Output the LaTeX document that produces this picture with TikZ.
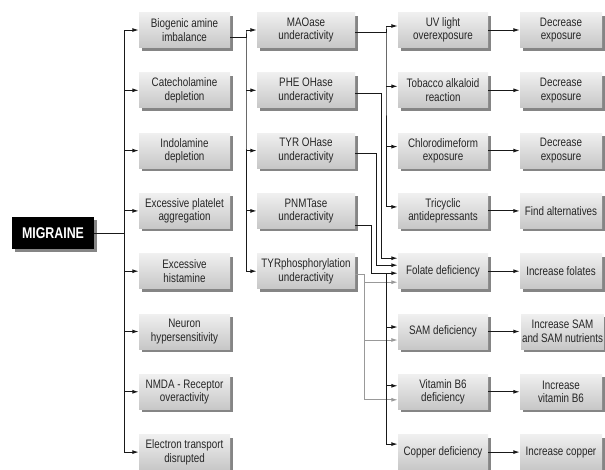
\documentclass[tikz,border=0pt]{standalone}
\usepackage{fontspec}
\setmainfont{Liberation Sans}[FakeStretch=0.8]
\usetikzlibrary{arrows.meta,shadows,calc}
\begin{document}
\begin{tikzpicture}[x=1pt,y=-1pt,
  cell/.style={minimum height=35pt, inner sep=1pt, align=center,
    font=\fontsize{12.3}{13.5}\selectfont, text=black!85,
    top color=black!6, bottom color=black!22, draw=none,
    copy shadow={shadow xshift=3pt, shadow yshift=-3pt, fill=black!48, draw=none}},
  cone/.style={cell, minimum width=91pt},
  ctwo/.style={cell, minimum width=98pt},
  cthree/.style={cell, minimum width=90pt},
  cfour/.style={cell, minimum width=82pt},
  rootbox/.style={fill=black, text=white, minimum width=82pt, minimum height=32pt,
    inner sep=1pt, font=\fontsize{15.5}{16}\selectfont\bfseries,
    copy shadow={shadow xshift=3pt, shadow yshift=-3pt, fill=black!48, draw=none}},
  link/.style={draw=black!90, line width=1pt},
  arr/.style={link, -{Latex[length=6.5pt,width=4pt]}},
  glink/.style={draw=black!40, line width=1pt},
  garr/.style={glink, -{Latex[length=6.5pt,width=4pt]}}
]
\useasboundingbox (0,0) rectangle (605,469);

% root
\node[rootbox] (mig) at (53,233) {MIGRAINE};

% first column: causes
\node[cone] (n1) at (184.5,30.0)  {Biogenic amine\\imbalance};
\node[cone] (n2) at (184.5,90.3)  {Catecholamine\\depletion};
\node[cone] (n3) at (184.5,150.6) {Indolamine\\depletion};
\node[cone] (n4) at (184.5,210.9) {Excessive platelet\\aggregation};
\node[cone] (n5) at (184.5,271.2) {Excessive\\histamine};
\node[cone] (n6) at (184.5,331.5) {Neuron\\hypersensitivity};
\node[cone] (n7) at (184.5,391.8) {NMDA - Receptor\\overactivity};
\node[cone] (n8) at (184.5,452.1) {Electron transport\\disrupted};

% second column: enzymes
\node[ctwo] (m1) at (306,30.0)  {MAOase\\underactivity};
\node[ctwo] (m2) at (306,90.3)  {PHE OHase\\underactivity};
\node[ctwo] (m3) at (306,150.6) {TYR OHase\\underactivity};
\node[ctwo] (m4) at (306,210.9) {PNMTase\\underactivity};
\node[ctwo] (m5) at (306,271.2) {TYRphosphorylation\\underactivity};

% third column: triggers and deficiencies
\node[cthree] (k1) at (443,30.0)  {UV light\\overexposure};
\node[cthree] (k2) at (443,90.3)  {Tobacco alkaloid\\reaction};
\node[cthree] (k3) at (443,150.6) {Chlorodimeform\\exposure};
\node[cthree] (k4) at (443,210.9) {Tricyclic\\antidepressants};
\node[cthree] (k5) at (443,271.2) {Folate deficiency};
\node[cthree] (k6) at (443,331.5) {SAM deficiency};
\node[cthree] (k7) at (443,391.8) {Vitamin B6\\deficiency};
\node[cthree] (k8) at (443,452.1) {Copper deficiency};

% fourth column: remedies
\node[cfour] (d1) at (561,30.0)  {Decrease\\exposure};
\node[cfour] (d2) at (561,90.3)  {Decrease\\exposure};
\node[cfour] (d3) at (561,150.6) {Decrease\\exposure};
\node[cfour] (d4) at (561,210.9) {Find alternatives};
\node[cfour] (d5) at (561,271.2) {Increase folates};
\node[cfour] (d6) at (562.5,331.5) {Increase SAM\\and SAM nutrients};
\node[cfour] (d7) at (561,391.8) {Increase\\vitamin B6};
\node[cfour] (d8) at (561,452.1) {Increase copper};

% bus x positions
\coordinate (bA) at (124,0);
\coordinate (bB) at (246,0);
\coordinate (bC) at (386,0);
\coordinate (xP) at (381,0);
\coordinate (xT) at (376,0);
\coordinate (xN) at (371,0);
\coordinate (xG) at (364,0);

% root to first column
\draw[link] (mig.east) -- (mig.east -| bA);
\draw[link] (bA |- n1.west) -- (bA |- n8.west);
\foreach \n in {n1,n2,n3,n4,n5,n6,n7,n8}
  \draw[arr] (bA |- \n.west) -- (\n.west);

% biogenic amine imbalance to enzymes
\draw[link] ($(n1.east)+(0,7)$) -| (bB |- m1.west) -- (bB |- m5.west);
\foreach \m in {m1,m2,m3,m4,m5}
  \draw[arr] (bB |- \m.west) -- (\m.west);

% MAOase to its triggers
\draw[link] ($(m1.east)+(0,2)$) -| ($(bC |- k1.west)+(0,-4)$) -- ($(bC |- k4.west)+(0,-4)$);
\foreach \k in {k1,k2,k3,k4}
  \draw[arr] ($(bC |- \k.west)+(0,-4)$) -- ($(\k.west)+(0,-4)$);

% TYR phosphorylation (grey) feeds
\draw[glink] ($(m5.east)+(0,3)$) -| ($(xG |- k7.west)+(0,8)$);
\draw[garr] ($(xG |- k5.west)+(0,11)$) -- ($(k5.west)+(0,11)$);
\draw[garr] ($(xG |- k6.west)+(0,8.5)$) -- ($(k6.west)+(0,8.5)$);
\draw[garr] ($(xG |- k7.west)+(0,8)$) -- ($(k7.west)+(0,8)$);

% hydroxylases and PNMTase to folate deficiency
\draw[arr] ($(m2.east)+(0,3)$) -| ($(xP |- k5.west)+(0,-13)$) -- ($(k5.west)+(0,-13)$);
\draw[arr] ($(m3.east)+(0,3)$) -| ($(xT |- k5.west)+(0,-6)$) -- ($(k5.west)+(0,-6)$);
\draw[arr] ($(m4.east)+(0,15)$) -| ($(xN |- k5.west)+(0,2)$) -- ($(k5.west)+(0,2)$);

% PNMTase branch to the other deficiencies
\draw[link] ($(bC |- k5.west)+(0,2)$) -- ($(bC |- k8.west)+(0,-8)$);
\draw[arr] ($(bC |- k6.west)+(0,-4.5)$) -- ($(k6.west)+(0,-4.5)$);
\draw[arr] ($(bC |- k7.west)+(0,-6)$) -- ($(k7.west)+(0,-6)$);
\draw[arr] ($(bC |- k8.west)+(0,-8)$) -- ($(k8.west)+(0,-8)$);

% remedies
\foreach \k/\d in {k1/d1,k2/d2,k3/d3,k4/d4,k5/d5,k6/d6,k7/d7,k8/d8}
  \draw[arr] (\k.east) -- (\d.west -| d1.west);
\end{tikzpicture}
\end{document}
